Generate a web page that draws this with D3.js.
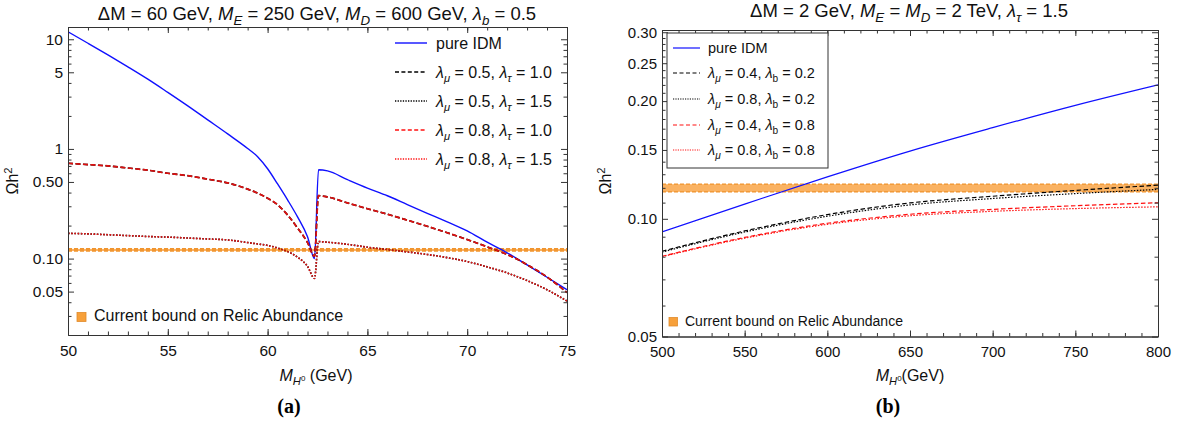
<!DOCTYPE html>
<html><head><meta charset="utf-8">
<script src="https://cdn.jsdelivr.net/npm/d3@7"></script>
<style>body{margin:0;background:#fff}svg{display:block}</style>
</head><body>
<svg id="c" width="1179" height="428"></svg>
<script>
// ---------- DATA ----------
// Panel (a)
const massA = [50,51,52,53,54,55,56,57,58,59,59.5,60,60.5,61,61.5,62,62.35,62.55,63,64,65,66,67,68,69,70,71,72,73,74,75];
const pureIDM_A = [11.7,9.2,7.21,5.61,4.33,3.28,2.47,1.84,1.37,1.01,0.85,0.66,0.479,0.343,0.24,0.158,0.1,0.645,0.63,0.525,0.44,0.374,0.311,0.259,0.216,0.179,0.141,0.113,0.0875,0.0676,0.052];
const mu05tau10 = [0.74,0.72,0.70,0.67,0.64,0.60,0.57,0.53,0.49,0.43,0.395,0.355,0.31,0.25,0.19,0.14,0.105,0.375,0.365,0.322,0.285,0.254,0.224,0.197,0.172,0.149,0.128,0.109,0.088,0.068,0.049];
const mu05tau15 = [0.17,0.168,0.165,0.162,0.159,0.157,0.154,0.151,0.148,0.14,0.136,0.132,0.125,0.116,0.103,0.085,0.066,0.143,0.141,0.135,0.127,0.121,0.115,0.109,0.102,0.094,0.084,0.074,0.063,0.052,0.041];
const mu08tau10 = [0.74,0.72,0.70,0.67,0.64,0.60,0.57,0.53,0.49,0.43,0.395,0.355,0.31,0.25,0.19,0.14,0.105,0.375,0.365,0.322,0.285,0.254,0.224,0.197,0.172,0.149,0.128,0.109,0.088,0.068,0.049];
const mu08tau15 = [0.17,0.168,0.165,0.162,0.159,0.157,0.154,0.151,0.148,0.14,0.136,0.132,0.125,0.116,0.103,0.085,0.066,0.143,0.141,0.135,0.127,0.121,0.115,0.109,0.102,0.094,0.084,0.074,0.063,0.052,0.041];
const xTicksA = [50,55,60,65,70,75];
const yTicksA = [0.05,0.1,0.5,1,5,10];
const yTickLabelsA = ["0.05","0.10","0.50","1","5","10"];
// Panel (b)
const massB = [500,550,600,650,700,750,800];
const pureIDM_B = [0.0926,0.109,0.128,0.149,0.171,0.195,0.220];
const mu04b02 = [0.0826,0.0931,0.1025,0.1098,0.1142,0.1182,0.1219];
const mu08b02 = [0.0822,0.0925,0.1015,0.1085,0.1127,0.116,0.1189];
const mu04b08 = [0.0802,0.0896,0.0974,0.1027,0.1057,0.108,0.1099];
const mu08b08 = [0.0800,0.0892,0.0968,0.1018,0.1045,0.1062,0.1073];
const xTicksB = [500,550,600,650,700,750,800];
const yTicksB = [0.05,0.10,0.15,0.20,0.25,0.30];
const yTickLabelsB = ["0.05","0.10","0.15","0.20","0.25","0.30"];
// Relic abundance band
const relicBand = [0.1172,0.1226];

// ---------- DRAW ----------
const svg = d3.select('#c');
svg.append('rect').attr('width',1179).attr('height',428).attr('fill','#fff');
const FONT = '"Liberation Sans", Arial, Helvetica, sans-serif';
const ORANGE_FILL = '#f9a546', ORANGE_EDGE = '#ef8a1a';

function rich(g, x, y, parts, fs, anchor) {
  const t = g.append('text').attr('x',x).attr('y',y).attr('font-size',fs)
    .attr('font-family',FONT).attr('fill','#111').attr('text-anchor',anchor||'start');
  let shift = 0;
  parts.forEach(p => {
    const ts = t.append('tspan').text(p.t);
    if (p.i) ts.attr('font-style','italic');
    const target = (p.dy||0)*fs;
    ts.attr('dy', target - shift); shift = target;
    if (p.s) ts.attr('font-size', fs*p.s);
  });
  return t;
}

function panel(cfg) {
  const g = svg.append('g');
  const x = d3.scaleLinear().domain(cfg.xDomain).range([cfg.x0, cfg.x1]);
  const y = d3.scaleLog().domain(cfg.yDomain).range([cfg.y1, cfg.y0]);
  const id = 'clip' + cfg.name;
  svg.append('clipPath').attr('id',id).append('rect')
    .attr('x',cfg.x0).attr('y',cfg.y0).attr('width',cfg.x1-cfg.x0).attr('height',cfg.y1-cfg.y0);
  const plot = g.append('g').attr('clip-path',`url(#${id})`);
  // band
  plot.append('rect').attr('x',cfg.x0).attr('width',cfg.x1-cfg.x0)
    .attr('y',y(relicBand[1])).attr('height',y(relicBand[0])-y(relicBand[1]))
    .attr('fill',ORANGE_FILL).attr('opacity',0.85);
  relicBand.forEach(v => plot.append('line').attr('x1',cfg.x0).attr('x2',cfg.x1)
    .attr('y1',y(v)).attr('y2',y(v)).attr('stroke',ORANGE_EDGE).attr('stroke-width',cfg.bandW)
    .attr('stroke-dasharray','4,2').attr('opacity',0.9));
  // lines
  const line = d3.line().x((d,i)=>x(cfg.mass[i])).y(d=>y(d)).curve(d3.curveMonotoneX);
  cfg.series.forEach(s => {
    plot.append('path').datum(s.v).attr('d',line).attr('fill','none')
      .attr('stroke',s.c).attr('stroke-width',s.w).attr('stroke-dasharray',s.dash||null);
  });
  // axes (frame with inward ticks)
  const ax = g.append('g').attr('font-family',FONT);
  const minorX = d3.range(cfg.xDomain[0], cfg.xDomain[1]+1e-9, cfg.xMinor);
  const mk = (sel) => sel.call(s=>s.select('.domain').attr('stroke','#333'))
    .call(s=>s.selectAll('.tick line').attr('stroke','#333'));
  ax.append('g').attr('transform',`translate(0,${cfg.y1})`)
    .call(d3.axisBottom(x).tickValues(minorX).tickSize(-3.5).tickFormat('').tickSizeOuter(0)).call(mk);
  ax.append('g').attr('transform',`translate(0,${cfg.y1})`)
    .call(d3.axisBottom(x).tickValues(cfg.xTicks).tickSize(-6).tickPadding(10).tickSizeOuter(0)).call(mk)
    .call(s=>s.selectAll('text').attr('font-size',cfg.tickFs).attr('fill','#111'));
  ax.append('g').attr('transform',`translate(0,${cfg.y0})`)
    .call(d3.axisTop(x).tickValues(minorX).tickSize(-3.5).tickFormat('').tickSizeOuter(0)).call(mk);
  ax.append('g').attr('transform',`translate(0,${cfg.y0})`)
    .call(d3.axisTop(x).tickValues(cfg.xTicks).tickSize(-6).tickFormat('').tickSizeOuter(0)).call(mk);
  const fmt = v => cfg.yLabels[cfg.yTicks.indexOf(v)];
  ax.append('g').attr('transform',`translate(${cfg.x0},0)`)
    .call(d3.axisLeft(y).tickValues(cfg.yMinor).tickSize(-3.5).tickFormat('').tickSizeOuter(0)).call(mk);
  ax.append('g').attr('transform',`translate(${cfg.x0},0)`)
    .call(d3.axisLeft(y).tickValues(cfg.yTicks).tickSize(-6).tickPadding(5).tickFormat(fmt).tickSizeOuter(0)).call(mk)
    .call(s=>s.selectAll('text').attr('font-size',cfg.tickFs).attr('fill','#111'));
  ax.append('g').attr('transform',`translate(${cfg.x1},0)`)
    .call(d3.axisRight(y).tickValues(cfg.yMinor).tickSize(-3.5).tickFormat('').tickSizeOuter(0)).call(mk);
  ax.append('g').attr('transform',`translate(${cfg.x1},0)`)
    .call(d3.axisRight(y).tickValues(cfg.yTicks).tickSize(-6).tickFormat('').tickSizeOuter(0)).call(mk);
  return {g,x,y};
}

// Panel (a)
const minorYA = [];
[0.01,0.1,1].forEach(d=>{for(let k=2;k<=9;k++){const v=+(k*d).toFixed(3); if(v>=0.0201&&v<=12.9&&!yTicksA.includes(v)) minorYA.push(v);}});
const A = panel({name:'A', xDomain:[50,75], yDomain:[0.0201,12.94], x0:68, x1:567, y0:27, y1:335,
  mass:massA, xTicks:xTicksA, xMinor:1, yTicks:yTicksA, yLabels:yTickLabelsA, yMinor:minorYA, tickFs:15.5, bandW:1.6,
  series:[
    {v:pureIDM_A, c:'#1010ff', w:1.4},
    {v:mu05tau10, c:'#000', w:1.6, dash:'5,2.5'},
    {v:mu05tau15, c:'#000', w:1.6, dash:'1.6,1.6'},
    {v:mu08tau10, c:'#e01010', w:1.7, dash:'5,2.5'},
    {v:mu08tau15, c:'#e01010', w:1.6, dash:'1.6,1.6'}
  ]});

// Panel (b)
const minorYB = d3.range(6,30).map(k=>k/100).filter(v=>!yTicksB.some(t=>Math.abs(t-v)<1e-9));
const B = panel({name:'B', xDomain:[500,800], yDomain:[0.05,0.304], x0:662, x1:1158, y0:30, y1:336.5,
  mass:massB, xTicks:xTicksB, xMinor:10, yTicks:yTicksB, yLabels:yTickLabelsB, yMinor:minorYB, tickFs:15, bandW:1.2,
  series:[
    {v:pureIDM_B, c:'#1010ff', w:1.2},
    {v:mu04b02, c:'#000', w:1.2, dash:'4.5,2.5'},
    {v:mu08b02, c:'#000', w:1.2, dash:'1.5,1.5'},
    {v:mu04b08, c:'#ff1010', w:1.2, dash:'4.5,2.5'},
    {v:mu08b08, c:'#ff1010', w:1.2, dash:'1.5,1.5'}
  ]});

// Titles
rich(svg, 317, 20, [{t:'ΔM = 60 GeV, '},{t:'M',i:1},{t:'E',i:1,dy:0.25,s:0.72},{t:' = 250 GeV, '},
  {t:'M',i:1},{t:'D',i:1,dy:0.25,s:0.72},{t:' = 600 GeV, '},{t:'λ',i:1},{t:'b',i:1,dy:0.25,s:0.72},{t:' = 0.5'}], 18.5, 'middle');
rich(svg, 909, 17, [{t:'ΔM = 2 GeV, '},{t:'M',i:1},{t:'E',i:1,dy:0.25,s:0.72},{t:' = '},
  {t:'M',i:1},{t:'D',i:1,dy:0.25,s:0.72},{t:' = 2 TeV, '},{t:'λ',i:1},{t:'τ',i:1,dy:0.25,s:0.72},{t:' = 1.5'}], 18.5, 'middle');

// Axis labels
rich(svg, 316, 381, [{t:'M',i:1},{t:'H',i:1,dy:0.25,s:0.7},{t:'0',dy:0.0,s:0.5},{t:' (GeV)'}], 16, 'middle');
rich(svg, 910, 381, [{t:'M',i:1},{t:'H',i:1,dy:0.25,s:0.7},{t:'0',dy:0.0,s:0.5},{t:'(GeV)'}], 16, 'middle');
[[18,181],[611,181]].forEach(([px,py])=>{
  const gy = svg.append('g').attr('transform',`translate(${px},${py}) rotate(-90)`);
  rich(gy, 0, 0, [{t:'Ωh'},{t:'2',dy:-0.4,s:0.7}], 16, 'middle');
});

// Legends
function legendRows(x0, x1, tx, ys, items, fs) {
  items.forEach((it,i)=>{
    svg.append('line').attr('x1',x0).attr('x2',x1).attr('y1',ys[i]).attr('y2',ys[i])
      .attr('stroke',it.c).attr('stroke-width',it.w).attr('stroke-dasharray',it.dash||null);
    rich(svg, tx, ys[i]+fs*0.35, it.label, fs);
  });
}
const labA = (m,t)=>[{t:'λ',i:1},{t:'μ',i:1,dy:0.25,s:0.7},{t:' = '+m+', '},{t:'λ',i:1},{t:'τ',i:1,dy:0.25,s:0.7},{t:' = '+t}];
legendRows(395, 427, 436, [43,72,101,130,159], [
  {c:'#1010ff', w:1.4, label:[{t:'pure IDM'}]},
  {c:'#000', w:1.3, dash:'4,2.4', label:labA('0.5','1.0')},
  {c:'#000', w:1.3, dash:'1.3,1.3', label:labA('0.5','1.5')},
  {c:'#ff1010', w:1.3, dash:'4,2.4', label:labA('0.8','1.0')},
  {c:'#ff1010', w:1.3, dash:'1.3,1.3', label:labA('0.8','1.5')}
], 16);
svg.append('rect').attr('x',667).attr('y',33).attr('width',161).attr('height',135)
  .attr('fill','#fff').attr('stroke','#333').attr('stroke-width',1);
const labB = (m,b)=>[{t:'λ',i:1},{t:'μ',i:1,dy:0.25,s:0.7},{t:' = '+m+', '},{t:'λ',i:1},{t:'b',dy:0.25,s:0.7},{t:' = '+b}];
legendRows(673, 700, 708, [48,73,99,125,150], [
  {c:'#1010ff', w:1.2, label:[{t:'pure IDM'}]},
  {c:'#000', w:1.1, dash:'4,2.5', label:labB('0.4','0.2')},
  {c:'#000', w:1.1, dash:'1.2,1.2', label:labB('0.8','0.2')},
  {c:'#ff1010', w:1.1, dash:'4,2.5', label:labB('0.4','0.8')},
  {c:'#ff1010', w:1.1, dash:'1.2,1.2', label:labB('0.8','0.8')}
], 14.5);

// Band legend
[[77,312.5,9,94,321,16],[669,317.5,8.5,685,326,14]].forEach(([sx,sy,sz,tx,ty,fs])=>{
  svg.append('rect').attr('x',sx).attr('y',sy).attr('width',sz).attr('height',sz)
    .attr('fill','#f7a03a').attr('stroke','#e08a2a').attr('stroke-width',0.8);
  rich(svg, tx, ty, [{t:'Current bound on Relic Abundance'}], fs);
});

// Sub-figure labels
svg.append('text').attr('x',289).attr('y',413).attr('text-anchor','middle')
  .attr('font-family','"Liberation Serif","DejaVu Serif",serif').attr('font-weight','bold').attr('font-size',20).text('(a)');
svg.append('text').attr('x',888).attr('y',413).attr('text-anchor','middle')
  .attr('font-family','"Liberation Serif","DejaVu Serif",serif').attr('font-weight','bold').attr('font-size',20).text('(b)');
</script>
</body></html>
